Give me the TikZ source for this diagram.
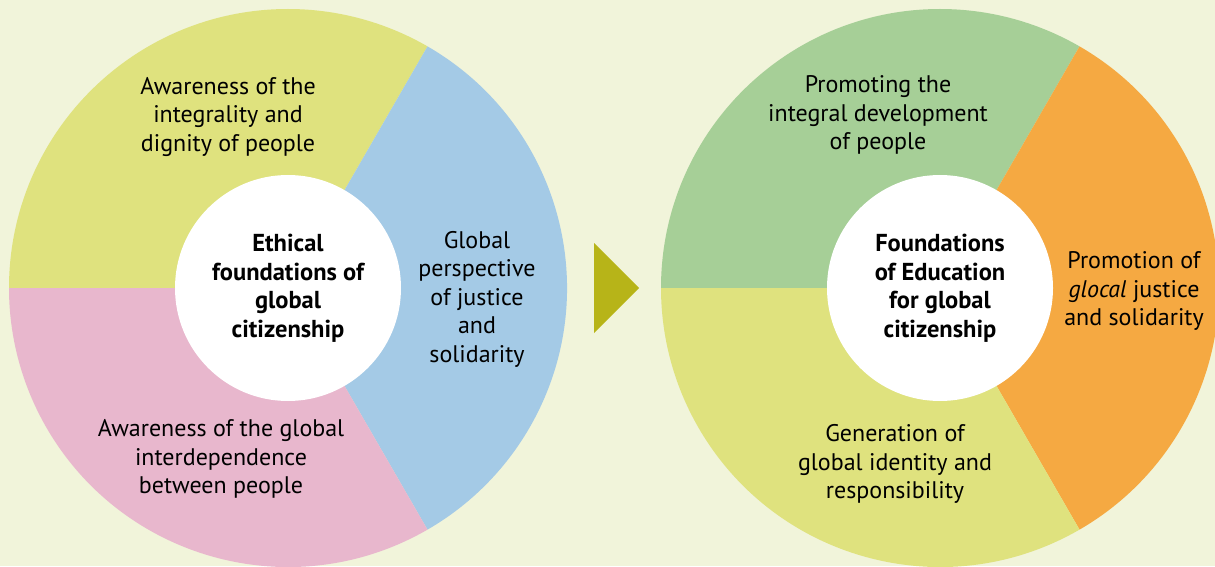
\documentclass[tikz,border=0pt]{standalone}
\usepackage{fontspec}
\setmainfont{PT Sans}
\definecolor{bgc}{HTML}{F1F4DA}
\definecolor{yelc}{HTML}{DFE27E}
\definecolor{bluc}{HTML}{A4CAE6}
\definecolor{pinc}{HTML}{E8B7CD}
\definecolor{grnc}{HTML}{A6CF97}
\definecolor{orac}{HTML}{F5A942}
\definecolor{arrc}{HTML}{B7B418}
\tikzset{
  seglabel/.style={align=center, inner sep=0pt, text=black, font=\fontsize{24}{28.5}\selectfont},
  hub/.style={circle, fill=white, minimum size=226pt, inner sep=0pt, align=center, font=\fontsize{24.5}{28.5}\selectfont\bfseries}
}
\begin{document}
\begin{tikzpicture}[x=1pt,y=1pt]
\useasboundingbox (0,0) rectangle (1215,566);
\fill[bgc] (0,0) rectangle (1215,566);
% left circle
\coordinate (L) at (288,278);
\fill[yelc] (L) -- ++(180:279) arc[start angle=180, end angle=60, radius=279] -- cycle;
\fill[bluc] (L) -- ++(60:279) arc[start angle=60, end angle=-60, radius=279] -- cycle;
\fill[pinc] (L) -- ++(-60:279) arc[start angle=-60, end angle=-180, radius=279] -- cycle;
\node[hub] (lhub) at (L) {Ethical\\foundations of\\global\\citizenship};
\node[seglabel] (l1) at (228,449) {Awareness of the\\integrality and\\dignity of people};
\node[seglabel] (l2) at (477,267) {Global\\perspective\\of justice\\and\\solidarity};
\node[seglabel] (l3) at (221,107) {Awareness of the global\\interdependence\\between people};
% arrow
\fill[arrc] (594,323) -- (639,278) -- (594,233) -- cycle;
% right circle
\coordinate (R) at (940,278);
\fill[grnc] (R) -- ++(180:279) arc[start angle=180, end angle=60, radius=279] -- cycle;
\fill[orac] (R) -- ++(60:279) arc[start angle=60, end angle=-60, radius=279] -- cycle;
\fill[yelc] (R) -- ++(-60:279) arc[start angle=-60, end angle=-180, radius=279] -- cycle;
\node[hub] (rhub) at (R) {Foundations\\of Education\\for global\\citizenship};
\node[seglabel] (r1) at (878,451) {Promoting the\\integral development\\of people};
\node[seglabel] (r2) at (1134,275) {Promotion of\\\textit{glocal} justice\\and solidarity};
\node[seglabel] (r3) at (895,102) {Generation of\\global identity and\\responsibility};
\end{tikzpicture}
\end{document}
